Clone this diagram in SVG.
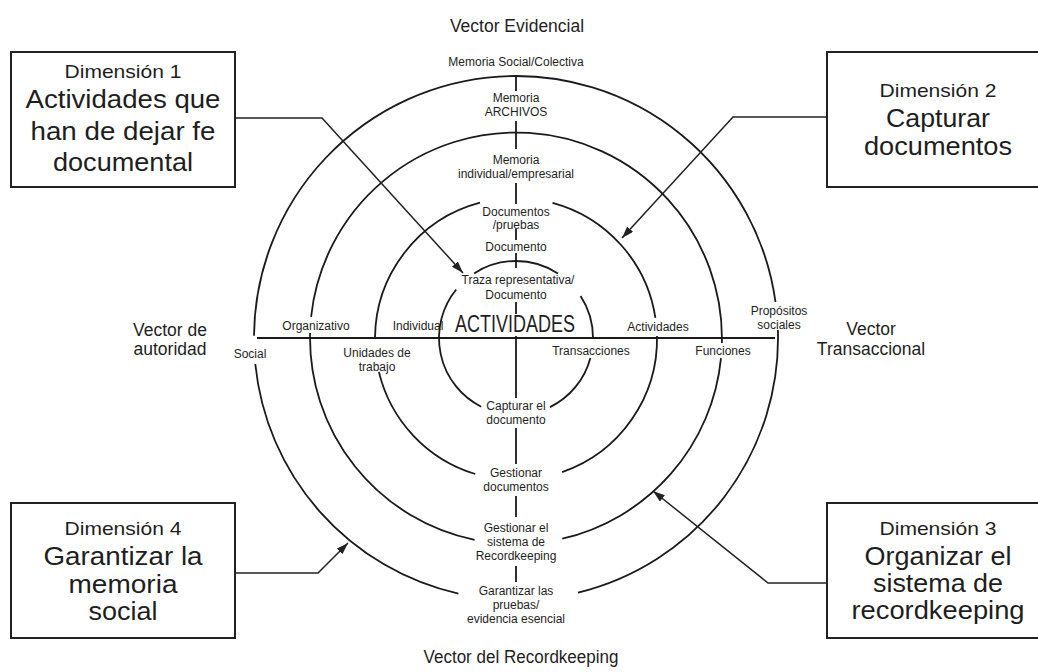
<svg xmlns="http://www.w3.org/2000/svg" width="1038" height="672" viewBox="0 0 1038 672">
<defs>
<style>
.c{fill:none;stroke:#1a1a1a;stroke-width:1.8}
.ax{fill:none;stroke:#1a1a1a;stroke-width:1.8}
.t{font-family:"Liberation Sans",Arial,sans-serif;font-size:12px;fill:#1e1e1e;text-anchor:middle}
.v{font-size:17.5px}
.d{font-size:19px}
.b{font-size:25.5px}
.big{font-size:23px}
.box{fill:#fff;stroke:#222;stroke-width:2}
.con{fill:none;stroke:#222;stroke-width:1.5;marker-end:url(#ah)}
</style>
<marker id="ah" viewBox="0 0 12 8" refX="12" refY="4" markerWidth="12" markerHeight="8" markerUnits="userSpaceOnUse" orient="auto">
<path d="M0,0 L12,4 L0,8 z" fill="#222"/>
</marker>
</defs>
<rect width="1038" height="672" fill="#fff"/>

<g id="circles">
<path class="c" d="M458.4,593.6 A262,262 0 0 1 255.3,364.0"/>
<path class="c" d="M254.0,335.7 A262,262 0 0 1 775.5,302.0"/>
<path class="c" d="M777.9,330.0 A262,262 0 0 1 578.0,592.6"/>
<path class="c" d="M721.0,358.1 A206,206 0 0 1 562.3,538.7"/>
<path class="c" d="M474.6,539.8 A206,206 0 0 1 310.1,333.0"/>
<path class="c" d="M311.1,316.8 A206,206 0 0 1 721.9,343.0"/>
<path class="c" d="M657.0,336.1 A141,141 0 0 1 562.1,472.2"/>
<path class="c" d="M475.3,474.0 A141,141 0 0 1 378.9,371.9"/>
<path class="c" d="M375.0,337.8 A141,141 0 0 1 480.0,202.7"/>
<path class="c" d="M552.5,202.8 A141,141 0 0 1 655.4,317.9"/>
<path class="c" d="M474.1,273.4 A77,77 0 0 1 557.9,273.4"/>
<path class="c" d="M481.2,406.7 A77,77 0 0 1 456.2,289.5"/>
<path class="c" d="M580.6,296.1 A77,77 0 0 1 593,338"/>
<path class="c" d="M590.4,357.9 A77,77 0 0 1 550.0,407.1"/>
</g>

<g id="axes">
<line class="ax" x1="257" y1="338" x2="775" y2="338"/>
<path class="ax" d="M516,76 V91 M516,121 V149 M516,183 V204 M516,229 V240 M516,253 V268 M516,302 V314 M516,336 V398 M516,428 V464 M516,496 V517 M516,566 V582"/>
</g>

<g id="labels">
<text class="t v" x="517" y="32">Vector Evidencial</text>
<text class="t" x="516" y="66">Memoria Social/Colectiva</text>
<text class="t" x="516" y="102">Memoria</text>
<text class="t" x="516" y="116">ARCHIVOS</text>
<text class="t" x="516" y="164">Memoria</text>
<text class="t" x="516" y="178">individual/empresarial</text>
<text class="t" x="516" y="216">Documentos</text>
<text class="t" x="516" y="229">/pruebas</text>
<text class="t" x="516" y="251">Documento</text>
<text class="t" x="518" y="284">Traza representativa/</text>
<text class="t" x="516" y="299">Documento</text>
<text class="t big" x="515" y="331.5" textLength="120" lengthAdjust="spacingAndGlyphs">ACTIVIDADES</text>
<text class="t" x="516" y="409.5">Capturar el</text>
<text class="t" x="516" y="424">documento</text>
<text class="t" x="516" y="476.5">Gestionar</text>
<text class="t" x="516" y="491">documentos</text>
<text class="t" x="516" y="531.5">Gestionar el</text>
<text class="t" x="516" y="545.5">sistema de</text>
<text class="t" x="516" y="559.5">Recordkeeping</text>
<text class="t" x="516" y="595">Garantizar las</text>
<text class="t" x="516" y="609">pruebas/</text>
<text class="t" x="516" y="623">evidencia esencial</text>
<text class="t v" x="521" y="663" textLength="195" lengthAdjust="spacingAndGlyphs">Vector del Recordkeeping</text>

<text class="t v" x="170" y="336">Vector de</text>
<text class="t v" x="170" y="355">autoridad</text>
<text class="t v" x="871" y="335">Vector</text>
<text class="t v" x="871" y="355">Transaccional</text>

<text class="t" x="250" y="357.5">Social</text>
<text class="t" x="316" y="330">Organizativo</text>
<text class="t" x="418" y="330">Individual</text>
<text class="t" x="377" y="357">Unidades de</text>
<text class="t" x="377" y="370.5">trabajo</text>
<text class="t" x="591" y="355">Transacciones</text>
<text class="t" x="658" y="330.5">Actividades</text>
<text class="t" x="723" y="355">Funciones</text>
<text class="t" x="779" y="315">Propósitos</text>
<text class="t" x="779" y="328.5">sociales</text>
</g>

<g id="connectors">
<path class="con" d="M235,118 H322 L463,273"/>
<path class="con" d="M827,117 H733 L622,238"/>
<path class="con" d="M827,583 H768 L653,491"/>
<path class="con" d="M235,573 H318 L348,543"/>
</g>

<g id="dim1">
<rect class="box" x="11" y="52" width="224" height="135"/>
<text class="t d" x="123" y="78" textLength="117" lengthAdjust="spacingAndGlyphs">Dimensión 1</text>
<text class="t b" x="123" y="108" textLength="195" lengthAdjust="spacingAndGlyphs">Actividades que</text>
<text class="t b" x="123" y="140" textLength="185" lengthAdjust="spacingAndGlyphs">han de dejar fe</text>
<text class="t b" x="123" y="171" textLength="140" lengthAdjust="spacingAndGlyphs">documental</text>
</g>

<g id="dim2">
<rect class="box" x="827" y="52" width="222" height="135"/>
<text class="t d" x="938" y="97" textLength="117" lengthAdjust="spacingAndGlyphs">Dimensión 2</text>
<text class="t b" x="938" y="127" textLength="104" lengthAdjust="spacingAndGlyphs">Capturar</text>
<text class="t b" x="938" y="155" textLength="148" lengthAdjust="spacingAndGlyphs">documentos</text>
</g>

<g id="dim3">
<rect class="box" x="827" y="503" width="222" height="135"/>
<text class="t d" x="938" y="535" textLength="117" lengthAdjust="spacingAndGlyphs">Dimensión 3</text>
<text class="t b" x="938" y="565" textLength="147" lengthAdjust="spacingAndGlyphs">Organizar el</text>
<text class="t b" x="938" y="591.5" textLength="130" lengthAdjust="spacingAndGlyphs">sistema de</text>
<text class="t b" x="938" y="618.5" textLength="173" lengthAdjust="spacingAndGlyphs">recordkeeping</text>
</g>

<g id="dim4">
<rect class="box" x="11" y="503" width="224" height="135"/>
<text class="t d" x="123" y="535" textLength="117" lengthAdjust="spacingAndGlyphs">Dimensión 4</text>
<text class="t b" x="123" y="565" textLength="159" lengthAdjust="spacingAndGlyphs">Garantizar la</text>
<text class="t b" x="123" y="592.5" textLength="109" lengthAdjust="spacingAndGlyphs">memoria</text>
<text class="t b" x="123" y="620" textLength="69" lengthAdjust="spacingAndGlyphs">social</text>
</g>
</svg>
